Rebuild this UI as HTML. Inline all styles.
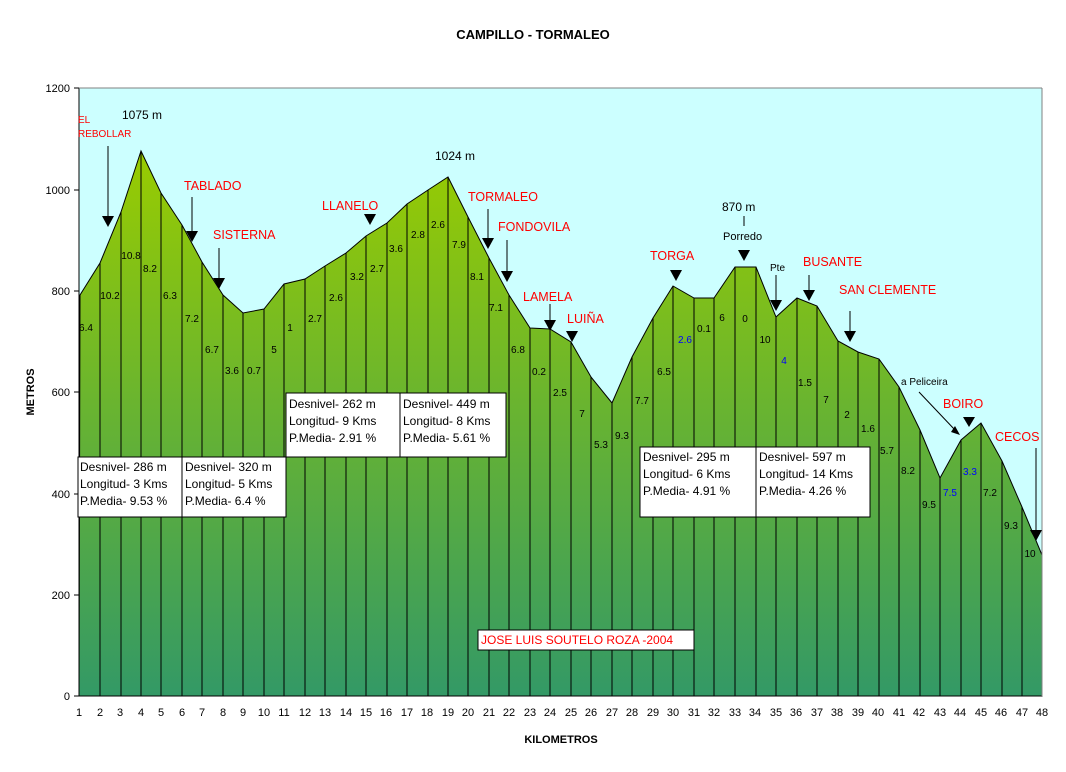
<!DOCTYPE html>
<html><head><meta charset="utf-8"><style>
html,body{margin:0;padding:0;background:#fff}
svg text{font-family:"Liberation Sans",Arial,sans-serif}
</style></head><body>
<svg width="1066" height="767" viewBox="0 0 1066 767" xmlns="http://www.w3.org/2000/svg">
<defs>
<linearGradient id="g" x1="0" y1="150" x2="0" y2="696" gradientUnits="userSpaceOnUse">
<stop offset="0" stop-color="#99cc00"/><stop offset="1" stop-color="#339966"/>
</linearGradient>
</defs>
<rect x="79" y="88" width="963" height="608" fill="#ccffff"/>
<text x="533" y="39" font-size="13" font-weight="bold" text-anchor="middle">CAMPILLO - TORMALEO</text>
<polygon fill="url(#g)" stroke="#000" stroke-width="1" points="79,696 80,295 100,263 121,212 141,151 161,193 182,225 202,262 223,295 243,313 264,309 284,284 305,279 325,266 346,253 366,236 387,223 407,204 428,190 448,177 468,217 489,258 509,295 530,328 550,329 571,342 591,377 612,403 632,357 653,318 673,286 694,298 714,298 735,267 756,267 776,317 797,298 817,306 838,341 858,352 879,359 899,387 920,430 940,478 961,440 981,423 1002,461 1022,507 1042,555 1042,696"/>
<g stroke="#000" stroke-width="1">
<line x1="100" y1="263" x2="100" y2="696"/><line x1="121" y1="212" x2="121" y2="696"/><line x1="141" y1="151" x2="141" y2="696"/><line x1="161" y1="193" x2="161" y2="696"/><line x1="182" y1="225" x2="182" y2="696"/><line x1="202" y1="262" x2="202" y2="696"/><line x1="223" y1="295" x2="223" y2="696"/><line x1="243" y1="313" x2="243" y2="696"/><line x1="264" y1="309" x2="264" y2="696"/><line x1="284" y1="284" x2="284" y2="696"/><line x1="305" y1="279" x2="305" y2="696"/><line x1="325" y1="266" x2="325" y2="696"/><line x1="346" y1="253" x2="346" y2="696"/><line x1="366" y1="236" x2="366" y2="696"/><line x1="387" y1="223" x2="387" y2="696"/><line x1="407" y1="204" x2="407" y2="696"/><line x1="428" y1="190" x2="428" y2="696"/><line x1="448" y1="177" x2="448" y2="696"/><line x1="468" y1="217" x2="468" y2="696"/><line x1="489" y1="258" x2="489" y2="696"/><line x1="509" y1="295" x2="509" y2="696"/><line x1="530" y1="328" x2="530" y2="696"/><line x1="550" y1="329" x2="550" y2="696"/><line x1="571" y1="342" x2="571" y2="696"/><line x1="591" y1="377" x2="591" y2="696"/><line x1="612" y1="403" x2="612" y2="696"/><line x1="632" y1="357" x2="632" y2="696"/><line x1="653" y1="318" x2="653" y2="696"/><line x1="673" y1="286" x2="673" y2="696"/><line x1="694" y1="298" x2="694" y2="696"/><line x1="714" y1="298" x2="714" y2="696"/><line x1="735" y1="267" x2="735" y2="696"/><line x1="756" y1="267" x2="756" y2="696"/><line x1="776" y1="317" x2="776" y2="696"/><line x1="797" y1="298" x2="797" y2="696"/><line x1="817" y1="306" x2="817" y2="696"/><line x1="838" y1="341" x2="838" y2="696"/><line x1="858" y1="352" x2="858" y2="696"/><line x1="879" y1="359" x2="879" y2="696"/><line x1="899" y1="387" x2="899" y2="696"/><line x1="920" y1="430" x2="920" y2="696"/><line x1="940" y1="478" x2="940" y2="696"/><line x1="961" y1="440" x2="961" y2="696"/><line x1="981" y1="423" x2="981" y2="696"/><line x1="1002" y1="461" x2="1002" y2="696"/><line x1="1022" y1="507" x2="1022" y2="696"/>
<line x1="79" y1="88" x2="79" y2="696"/><line x1="79" y1="696" x2="1042" y2="696"/>
<line x1="74" y1="88" x2="79" y2="88"/><line x1="74" y1="190" x2="79" y2="190"/><line x1="74" y1="291" x2="79" y2="291"/><line x1="74" y1="392" x2="79" y2="392"/><line x1="74" y1="494" x2="79" y2="494"/><line x1="74" y1="595" x2="79" y2="595"/><line x1="74" y1="696" x2="79" y2="696"/>
</g>
<line x1="1042" y1="88" x2="1042" y2="696" stroke="#808080"/>
<line x1="79" y1="88" x2="1042" y2="88" stroke="#808080"/>
<g font-size="11" text-anchor="end">
<text x="70" y="92">1200</text><text x="70" y="194">1000</text><text x="70" y="295">800</text><text x="70" y="396">600</text><text x="70" y="498">400</text><text x="70" y="599">200</text><text x="70" y="700">0</text>
</g>
<g font-size="11" text-anchor="middle">
<text x="79" y="716">1</text><text x="100" y="716">2</text><text x="120" y="716">3</text><text x="141" y="716">4</text><text x="161" y="716">5</text><text x="182" y="716">6</text><text x="202" y="716">7</text><text x="223" y="716">8</text><text x="243" y="716">9</text><text x="264" y="716">10</text><text x="284" y="716">11</text><text x="305" y="716">12</text><text x="325" y="716">13</text><text x="346" y="716">14</text><text x="366" y="716">15</text><text x="386" y="716">16</text><text x="407" y="716">17</text><text x="427" y="716">18</text><text x="448" y="716">19</text><text x="468" y="716">20</text><text x="489" y="716">21</text><text x="509" y="716">22</text><text x="530" y="716">23</text><text x="550" y="716">24</text><text x="571" y="716">25</text><text x="591" y="716">26</text><text x="612" y="716">27</text><text x="632" y="716">28</text><text x="653" y="716">29</text><text x="673" y="716">30</text><text x="694" y="716">31</text><text x="714" y="716">32</text><text x="735" y="716">33</text><text x="755" y="716">34</text><text x="776" y="716">35</text><text x="796" y="716">36</text><text x="817" y="716">37</text><text x="837" y="716">38</text><text x="858" y="716">39</text><text x="878" y="716">40</text><text x="899" y="716">41</text><text x="919" y="716">42</text><text x="940" y="716">43</text><text x="960" y="716">44</text><text x="981" y="716">45</text><text x="1001" y="716">46</text><text x="1022" y="716">47</text><text x="1042" y="716">48</text>
</g>
<text x="561" y="743" font-size="11" font-weight="bold" text-anchor="middle">KILOMETROS</text>
<text transform="translate(34,392) rotate(-90)" font-size="11" font-weight="bold" text-anchor="middle">METROS</text>
<g font-size="10" text-anchor="middle">
<text x="86" y="331">6.4</text><text x="110" y="299">10.2</text><text x="131" y="259">10.8</text><text x="150" y="272">8.2</text><text x="170" y="299">6.3</text><text x="192" y="322">7.2</text><text x="212" y="353">6.7</text><text x="232" y="374">3.6</text><text x="254" y="374">0.7</text><text x="274" y="353">5</text><text x="290" y="331">1</text><text x="315" y="322">2.7</text><text x="336" y="301">2.6</text><text x="357" y="280">3.2</text><text x="377" y="272">2.7</text><text x="396" y="252">3.6</text><text x="418" y="238">2.8</text><text x="438" y="228">2.6</text><text x="459" y="248">7.9</text><text x="477" y="280">8.1</text><text x="496" y="311">7.1</text><text x="518" y="353">6.8</text><text x="539" y="375">0.2</text><text x="560" y="396">2.5</text><text x="582" y="417">7</text><text x="601" y="448">5.3</text><text x="622" y="439">9.3</text><text x="642" y="404">7.7</text><text x="664" y="375">6.5</text><text x="685" y="343" fill="#0000ff">2.6</text><text x="704" y="332">0.1</text><text x="722" y="321">6</text><text x="745" y="322">0</text><text x="765" y="343">10</text><text x="784" y="364" fill="#0000ff">4</text><text x="805" y="386">1.5</text><text x="826" y="403">7</text><text x="847" y="418">2</text><text x="868" y="432">1.6</text><text x="887" y="454">5.7</text><text x="908" y="474">8.2</text><text x="929" y="508">9.5</text><text x="950" y="496" fill="#0000ff">7.5</text><text x="970" y="475" fill="#0000ff">3.3</text><text x="990" y="496">7.2</text><text x="1011" y="529">9.3</text><text x="1030" y="557">10</text>
</g>
<g font-size="12">
<text x="122" y="119">1075 m</text><text x="435" y="160">1024 m</text><text x="722" y="211">870 m</text>
<text x="723" y="240" font-size="11">Porredo</text><text x="770" y="271" font-size="10">Pte</text><text x="901" y="385" font-size="10">a Peliceira</text>
</g>
<g font-size="12.5" fill="#ff0000">
<text x="78" y="123" font-size="10">EL</text><text x="78" y="137" font-size="10">REBOLLAR</text>
<text x="184" y="190">TABLADO</text><text x="213" y="239">SISTERNA</text><text x="322" y="210">LLANELO</text>
<text x="468" y="201">TORMALEO</text><text x="498" y="231">FONDOVILA</text><text x="523" y="301">LAMELA</text><text x="567" y="323">LUIÑA</text>
<text x="650" y="260">TORGA</text><text x="803" y="266">BUSANTE</text><text x="839" y="294">SAN CLEMENTE</text><text x="943" y="408">BOIRO</text><text x="995" y="441">CECOS</text>
</g>
<g stroke="#000" stroke-width="1">
<line x1="108" y1="146" x2="108" y2="216"/><line x1="192" y1="197" x2="192" y2="232"/><line x1="219" y1="248" x2="219" y2="280"/>
<line x1="488" y1="209" x2="488" y2="240"/><line x1="507" y1="240" x2="507" y2="272"/><line x1="550" y1="304" x2="550" y2="322"/>
<line x1="744" y1="216" x2="744" y2="226"/><line x1="776" y1="275" x2="776" y2="302"/><line x1="809" y1="275" x2="809" y2="292"/>
<line x1="850" y1="311" x2="850" y2="333"/><line x1="1036" y1="448" x2="1036" y2="532"/><line x1="919" y1="392" x2="955" y2="430"/>
</g>
<g fill="#000">
<polygon points="102,216 114,216 108,227"/><polygon points="186,231 198,231 192,242"/><polygon points="213,278 225,278 219,289"/>
<polygon points="364,214 376,214 370,225"/><polygon points="482,238 494,238 488,249"/><polygon points="501,271 513,271 507,282"/>
<polygon points="544,320 556,320 550,331"/><polygon points="566,331 578,331 572,342"/><polygon points="670,270 682,270 676,281"/>
<polygon points="738,250 750,250 744,261"/><polygon points="770,300 782,300 776,311"/><polygon points="803,290 815,290 809,301"/>
<polygon points="844,331 856,331 850,342"/><polygon points="963,417 975,417 969,427"/><polygon points="1030,530 1042,530 1036,541"/>
<polygon points="951,432 960,435 955,426"/>
</g>
<g font-size="12" stroke="none">
<rect x="78" y="457" width="104" height="60" fill="#fff" stroke="#000"/><rect x="182" y="457" width="104" height="60" fill="#fff" stroke="#000"/>
<text x="80" y="471">Desnivel- 286 m</text><text x="80" y="488">Longitud- 3 Kms</text><text x="80" y="505">P.Media- 9.53 %</text>
<text x="185" y="471">Desnivel- 320 m</text><text x="185" y="488">Longitud- 5 Kms</text><text x="185" y="505">P.Media- 6.4 %</text>
<rect x="286" y="393" width="114" height="64" fill="#fff" stroke="#000"/><rect x="400" y="393" width="106" height="64" fill="#fff" stroke="#000"/>
<text x="289" y="408">Desnivel- 262 m</text><text x="289" y="425">Longitud- 9 Kms</text><text x="289" y="442">P.Media- 2.91 %</text>
<text x="403" y="408">Desnivel- 449 m</text><text x="403" y="425">Longitud- 8 Kms</text><text x="403" y="442">P.Media- 5.61 %</text>
<rect x="640" y="447" width="116" height="70" fill="#fff" stroke="#000"/><rect x="756" y="447" width="114" height="70" fill="#fff" stroke="#000"/>
<text x="643" y="461">Desnivel- 295 m</text><text x="643" y="478">Longitud- 6 Kms</text><text x="643" y="495">P.Media- 4.91 %</text>
<text x="759" y="461">Desnivel- 597 m</text><text x="759" y="478">Longitud- 14 Kms</text><text x="759" y="495">P.Media- 4.26 %</text>
<rect x="478" y="630" width="216" height="20" fill="#fff" stroke="#000"/>
<text x="481" y="644" fill="#ff0000">JOSE LUIS SOUTELO ROZA -2004</text>
</g>
</svg>
</body></html>
